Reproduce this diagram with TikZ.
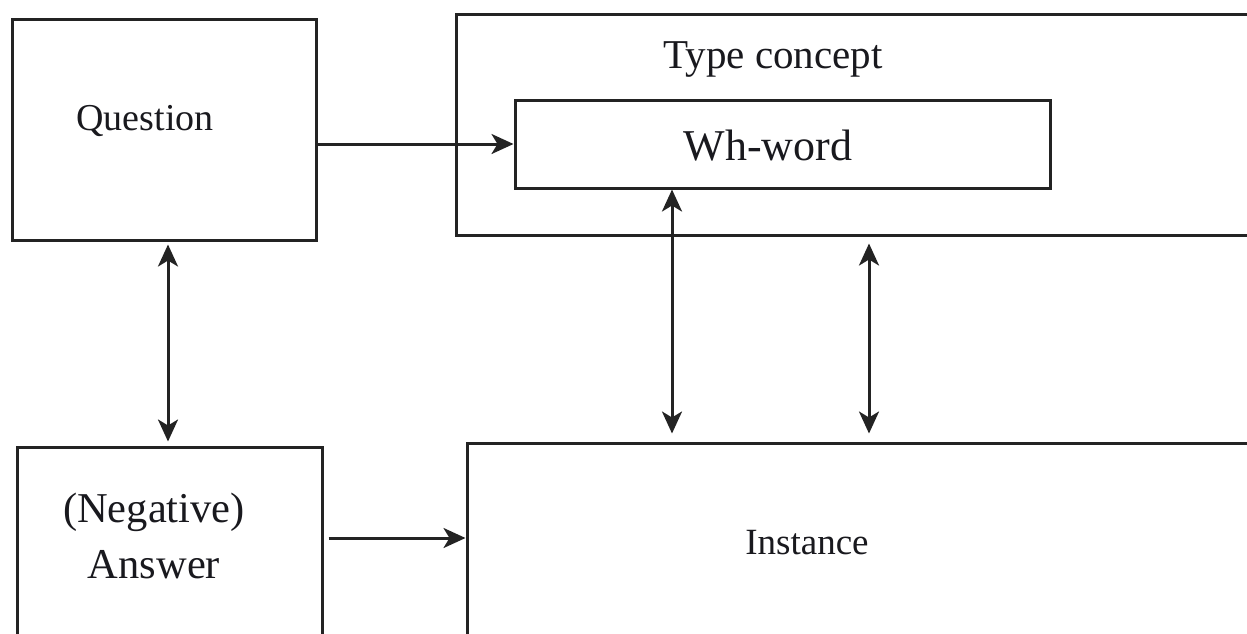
\documentclass[tikz,border=0pt]{standalone}
\usepackage{fontspec}
\setmainfont{Liberation Serif}
\usetikzlibrary{arrows.meta,calc}
\definecolor{ink}{RGB}{35,35,35}
\definecolor{txt}{RGB}{25,25,30}
\tikzset{
  tip/.tip={Stealth[length=22pt,width=20pt,inset=6pt]},
  box/.style={draw=ink,line width=3pt,minimum width=#1,inner sep=0pt,rectangle},
  lbl/.style={text=txt,inner sep=0pt,align=center},
  arr/.style={draw=ink,line width=3pt,-tip},
  dbl/.style={draw=ink,line width=3pt,tip-tip}
}
\begin{document}
\begin{tikzpicture}[x=1pt,y=-1pt]
\useasboundingbox (0,0) rectangle (1247,633);
\clip (0,0) rectangle (1247,633);
\fill[white] (0,0) rectangle (1247,633);
% boxes
\node[box=304pt,minimum height=221pt] (q) at (164,129.5) {};
\node[box=810pt,minimum height=221pt] (tc) at (861,124.5) {};
\node[box=535pt,minimum height=88pt] (w) at (782.5,144) {};
\node[box=305pt,minimum height=220pt] (a) at (169.5,557) {};
\node[box=810pt,minimum height=220pt] (inst) at (872,553) {};
% labels
\node[lbl,font=\fontsize{38}{44}\selectfont] (ql) at (145,121) {Question};
\node[lbl,font=\fontsize{41}{48}\selectfont] (tcl) at (773,59) {Type concept};
\node[lbl,font=\fontsize{44}{52}\selectfont] (wl) at (768,146) {Wh-word};
\node[lbl,font=\fontsize{37}{44}\selectfont] (il) at (807,543) {Instance};
\node[lbl,font=\fontsize{42.5}{56}\selectfont] (al) at (154,536) {(Negative)\\Answer};
% connectors
\draw[arr] (q.east |- w.west) -- (w.west);
\draw[dbl,shorten <=3pt,shorten >=4pt] ([xshift=4pt]q.south) -- ([xshift=4pt]q.south |- a.north);
\draw[dbl,shorten >=8pt] (w.south -| 672,0) -- (inst.north -| 672,0);
\draw[dbl,shorten <=7pt,shorten >=8pt] (tc.south -| 869,0) -- (inst.north -| 869,0);
\draw[arr,shorten <=5pt] (a.east |- 0,538) -- (inst.west |- 0,538);
\end{tikzpicture}
\end{document}
